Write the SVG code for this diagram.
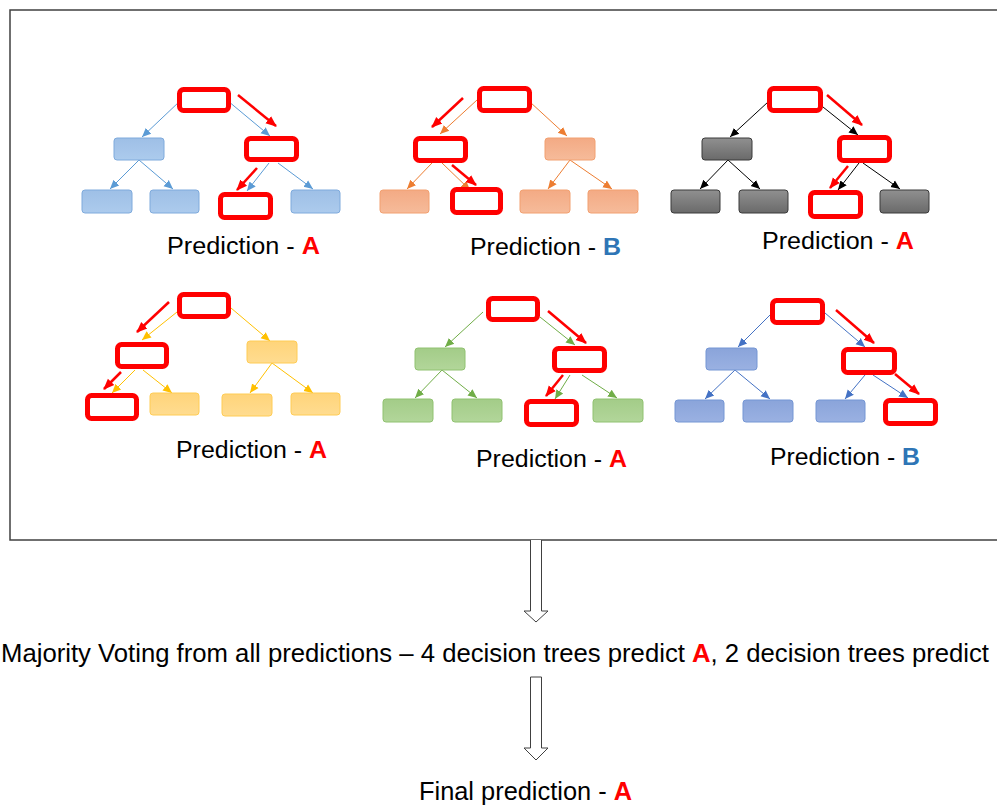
<svg xmlns="http://www.w3.org/2000/svg" width="997" height="806" viewBox="0 0 997 806">
<style>
text{font-family:"Liberation Sans",Arial,sans-serif;fill:#000}
.lbl{font-size:23px}
.big{font-size:26px}
.ra{fill:#ff0000;font-weight:bold}
.rb{fill:#2e75b6;font-weight:bold}
.hl{fill:#fff;stroke:#ff0000;stroke-width:5}
.rarr{stroke:#ff0000;stroke-width:2.5;fill:none;marker-end:url(#mR)}
.n1{fill:url(#g1);stroke:#7eaadc;stroke-width:1}
.n2{fill:url(#g2);stroke:#f2a070;stroke-width:1}
.n3{fill:url(#g3);stroke:#3a3a3a;stroke-width:1}
.n4{fill:url(#g4);stroke:#ffcc55;stroke-width:1}
.n5{fill:url(#g5);stroke:#90c270;stroke-width:1}
.n6{fill:url(#g6);stroke:#7596d4;stroke-width:1}
.e1{stroke:#5b9bd5;stroke-width:1;fill:none;marker-end:url(#m1)}
.e2{stroke:#ed7d31;stroke-width:1;fill:none;marker-end:url(#m2)}
.e3{stroke:#000;stroke-width:1;fill:none;marker-end:url(#m3)}
.e4{stroke:#ffc000;stroke-width:1;fill:none;marker-end:url(#m4)}
.e5{stroke:#70ad47;stroke-width:1;fill:none;marker-end:url(#m5)}
.e6{stroke:#4472c4;stroke-width:1;fill:none;marker-end:url(#m6)}
.hollow{fill:#fff;stroke:#404040;stroke-width:1}
</style>
<defs>
<linearGradient id="g1" x1="0" y1="0" x2="0" y2="1"><stop offset="0" stop-color="#9ebfe6"/><stop offset="1" stop-color="#accbed"/></linearGradient>
<linearGradient id="g2" x1="0" y1="0" x2="0" y2="1"><stop offset="0" stop-color="#f3aa84"/><stop offset="1" stop-color="#f6bb9a"/></linearGradient>
<linearGradient id="g3" x1="0" y1="0" x2="0" y2="1"><stop offset="0" stop-color="#909090"/><stop offset="1" stop-color="#6a6a6a"/></linearGradient>
<linearGradient id="g4" x1="0" y1="0" x2="0" y2="1"><stop offset="0" stop-color="#ffd47a"/><stop offset="1" stop-color="#ffdc90"/></linearGradient>
<linearGradient id="g5" x1="0" y1="0" x2="0" y2="1"><stop offset="0" stop-color="#a3cc88"/><stop offset="1" stop-color="#b2d69a"/></linearGradient>
<linearGradient id="g6" x1="0" y1="0" x2="0" y2="1"><stop offset="0" stop-color="#8aa4da"/><stop offset="1" stop-color="#9ab1e2"/></linearGradient>
<marker id="m1" markerUnits="userSpaceOnUse" markerWidth="10" markerHeight="10" refX="9" refY="5" orient="auto"><path d="M0,1 L9,5 L0,9 Z" fill="#5b9bd5"/></marker>
<marker id="m2" markerUnits="userSpaceOnUse" markerWidth="10" markerHeight="10" refX="9" refY="5" orient="auto"><path d="M0,1 L9,5 L0,9 Z" fill="#ed7d31"/></marker>
<marker id="m3" markerUnits="userSpaceOnUse" markerWidth="10" markerHeight="10" refX="9" refY="5" orient="auto"><path d="M0,1 L9,5 L0,9 Z" fill="#000"/></marker>
<marker id="m4" markerUnits="userSpaceOnUse" markerWidth="10" markerHeight="10" refX="9" refY="5" orient="auto"><path d="M0,1 L9,5 L0,9 Z" fill="#ffc000"/></marker>
<marker id="m5" markerUnits="userSpaceOnUse" markerWidth="10" markerHeight="10" refX="9" refY="5" orient="auto"><path d="M0,1 L9,5 L0,9 Z" fill="#70ad47"/></marker>
<marker id="m6" markerUnits="userSpaceOnUse" markerWidth="10" markerHeight="10" refX="9" refY="5" orient="auto"><path d="M0,1 L9,5 L0,9 Z" fill="#4472c4"/></marker>
<marker id="mR" markerUnits="userSpaceOnUse" markerWidth="12" markerHeight="12" refX="10" refY="6" orient="auto"><path d="M0,1.5 L11,6 L0,10.5 Z" fill="#ff0000"/></marker>
</defs>

<rect id="frame" x="10" y="10" width="1000" height="530" fill="#fff" stroke="#404040" stroke-width="1.5"/>

<g id="connectors">
  <line class="e1" x1="180" y1="101" x2="142" y2="137"/>
  <line class="e1" x1="228" y1="101" x2="270" y2="136"/>
  <line class="e1" x1="139" y1="160" x2="110" y2="189"/>
  <line class="e1" x1="139" y1="160" x2="173" y2="189"/>
  <line class="e1" x1="269" y1="163" x2="247" y2="191"/>
  <line class="e1" x1="278" y1="163" x2="313" y2="189"/>
  <line class="rarr" x1="238" y1="95" x2="276" y2="126"/>
  <line class="rarr" x1="257" y1="168" x2="237" y2="190"/>
  <line class="e2" x1="477" y1="100" x2="440" y2="134"/>
  <line class="e2" x1="530" y1="102" x2="567" y2="136"/>
  <line class="e2" x1="432" y1="163" x2="407" y2="189"/>
  <line class="e2" x1="442" y1="163" x2="470" y2="190"/>
  <line class="e2" x1="570" y1="160" x2="548" y2="189"/>
  <line class="e2" x1="570" y1="160" x2="612" y2="189"/>
  <line class="rarr" x1="463" y1="98" x2="432" y2="127"/>
  <line class="rarr" x1="452" y1="165" x2="476" y2="185"/>
  <line class="e3" x1="768" y1="102" x2="730" y2="137"/>
  <line class="e3" x1="823" y1="107" x2="858" y2="135"/>
  <line class="e3" x1="728" y1="160" x2="700" y2="189"/>
  <line class="e3" x1="728" y1="160" x2="760" y2="189"/>
  <line class="e3" x1="859" y1="163" x2="838" y2="190"/>
  <line class="e3" x1="863" y1="163" x2="900" y2="189"/>
  <line class="rarr" x1="827" y1="95" x2="862" y2="125"/>
  <line class="rarr" x1="848" y1="166" x2="830" y2="188"/>
  <line class="e4" x1="177" y1="312" x2="142" y2="340"/>
  <line class="e4" x1="231" y1="308" x2="270" y2="341"/>
  <line class="e4" x1="135" y1="370" x2="112" y2="393"/>
  <line class="e4" x1="143" y1="370" x2="172" y2="393"/>
  <line class="e4" x1="272" y1="363" x2="250" y2="393"/>
  <line class="e4" x1="272" y1="363" x2="313" y2="393"/>
  <line class="rarr" x1="169" y1="302" x2="137" y2="332"/>
  <line class="rarr" x1="121" y1="372" x2="104" y2="389"/>
  <line class="e5" x1="483" y1="312" x2="445" y2="347"/>
  <line class="e5" x1="540" y1="317" x2="575" y2="345"/>
  <line class="e5" x1="442" y1="370" x2="415" y2="398"/>
  <line class="e5" x1="442" y1="370" x2="477" y2="398"/>
  <line class="e5" x1="570" y1="375" x2="555" y2="399"/>
  <line class="e5" x1="582" y1="375" x2="617" y2="398"/>
  <line class="rarr" x1="548" y1="311" x2="586" y2="343"/>
  <line class="rarr" x1="563" y1="375" x2="546" y2="396"/>
  <line class="e6" x1="770" y1="315" x2="738" y2="347"/>
  <line class="e6" x1="825" y1="313" x2="865" y2="347"/>
  <line class="e6" x1="735" y1="370" x2="705" y2="399"/>
  <line class="e6" x1="735" y1="370" x2="770" y2="399"/>
  <line class="e6" x1="865" y1="375" x2="845" y2="399"/>
  <line class="e6" x1="873" y1="375" x2="908" y2="398"/>
  <line class="rarr" x1="836" y1="310" x2="874" y2="343"/>
  <line class="rarr" x1="895" y1="374" x2="919" y2="394"/>
  <path class="hollow" d="M530.5,540 L530.5,611 L524,611 L536,622 L548,611 L541.5,611 L541.5,540"/>
  <path class="hollow" d="M530.5,677 L541.5,677 L541.5,748 L548,748 L536,760 L524,748 L530.5,748 Z"/>
</g>

<g id="tree1">
  <rect class="hl" x="179.5" y="89.5" width="49" height="21" rx="4"/>
  <rect class="n1" x="114" y="138" width="50" height="22" rx="3"/>
  <rect class="hl" x="246.5" y="138.5" width="50" height="21" rx="4"/>
  <rect class="n1" x="82" y="190" width="50" height="23" rx="3"/>
  <rect class="n1" x="150" y="190" width="49" height="23" rx="3"/>
  <rect class="hl" x="220.5" y="194.5" width="50" height="23" rx="4"/>
  <rect class="n1" x="291" y="190" width="49" height="23" rx="3"/>
  <text class="lbl" x="167" y="254" textLength="153" lengthAdjust="spacingAndGlyphs">Prediction - <tspan class="ra">A</tspan></text>
</g>

<g id="tree2">
  <rect class="hl" x="479.5" y="88.5" width="50" height="22" rx="4"/>
  <rect class="hl" x="415.5" y="138.5" width="50" height="22" rx="4"/>
  <rect class="n2" x="545" y="138" width="50" height="22" rx="3"/>
  <rect class="n2" x="380" y="190" width="49" height="23" rx="3"/>
  <rect class="hl" x="452.5" y="189.5" width="48" height="23" rx="4"/>
  <rect class="n2" x="520" y="190" width="50" height="23" rx="3"/>
  <rect class="n2" x="588" y="190" width="50" height="23" rx="3"/>
  <text class="lbl" x="470" y="255" textLength="151" lengthAdjust="spacingAndGlyphs">Prediction - <tspan class="rb">B</tspan></text>
</g>

<g id="tree3">
  <rect class="hl" x="769.5" y="88.5" width="51" height="22" rx="4"/>
  <rect class="n3" x="702" y="138" width="50" height="22" rx="3"/>
  <rect class="hl" x="839.5" y="137.5" width="50" height="23" rx="4"/>
  <rect class="n3" x="671" y="190" width="49" height="23" rx="3"/>
  <rect class="n3" x="739" y="190" width="49" height="23" rx="3"/>
  <rect class="hl" x="810.5" y="192.5" width="50" height="24" rx="4"/>
  <rect class="n3" x="880" y="190" width="49" height="23" rx="3"/>
  <text class="lbl" x="762" y="249" textLength="152" lengthAdjust="spacingAndGlyphs">Prediction - <tspan class="ra">A</tspan></text>
</g>

<g id="tree4">
  <rect class="hl" x="179.5" y="294.5" width="49" height="22" rx="4"/>
  <rect class="hl" x="117.5" y="344.5" width="49" height="22" rx="4"/>
  <rect class="n4" x="247" y="341" width="50" height="22" rx="3"/>
  <rect class="hl" x="87.5" y="395.5" width="49" height="23" rx="4"/>
  <rect class="n4" x="150" y="393" width="49" height="22" rx="3"/>
  <rect class="n4" x="222" y="394" width="50" height="22" rx="3"/>
  <rect class="n4" x="291" y="393" width="49" height="22" rx="3"/>
  <text class="lbl" x="176" y="458" textLength="151" lengthAdjust="spacingAndGlyphs">Prediction - <tspan class="ra">A</tspan></text>
</g>

<g id="tree5">
  <rect class="hl" x="488.5" y="298.5" width="49" height="21" rx="4"/>
  <rect class="n5" x="415" y="348" width="50" height="22" rx="3"/>
  <rect class="hl" x="554.5" y="348.5" width="50" height="22" rx="4"/>
  <rect class="n5" x="383" y="399" width="50" height="23" rx="3"/>
  <rect class="n5" x="452" y="399" width="50" height="23" rx="3"/>
  <rect class="hl" x="526.5" y="401.5" width="50" height="23" rx="4"/>
  <rect class="n5" x="593" y="399" width="50" height="23" rx="3"/>
  <text class="lbl" x="476" y="467" textLength="151" lengthAdjust="spacingAndGlyphs">Prediction - <tspan class="ra">A</tspan></text>
</g>

<g id="tree6">
  <rect class="hl" x="772.5" y="300.5" width="50" height="22" rx="4"/>
  <rect class="n6" x="706" y="348" width="51" height="22" rx="3"/>
  <rect class="hl" x="843.5" y="349.5" width="51" height="23" rx="4"/>
  <rect class="n6" x="675" y="400" width="49" height="22" rx="3"/>
  <rect class="n6" x="743" y="400" width="50" height="22" rx="3"/>
  <rect class="n6" x="816" y="400" width="49" height="22" rx="3"/>
  <rect class="hl" x="885.5" y="400.5" width="50" height="23" rx="4"/>
  <text class="lbl" x="770" y="465" textLength="150" lengthAdjust="spacingAndGlyphs">Prediction - <tspan class="rb">B</tspan></text>
</g>

<g id="majority">
  <text class="big" x="1" y="662" textLength="988" lengthAdjust="spacingAndGlyphs">Majority Voting from all predictions – 4 decision trees predict <tspan class="ra">A</tspan>, 2 decision trees predict</text>
</g>

<g id="final">
  <text class="big" x="419" y="800" textLength="213" lengthAdjust="spacingAndGlyphs">Final prediction - <tspan class="ra">A</tspan></text>
</g>
</svg>
